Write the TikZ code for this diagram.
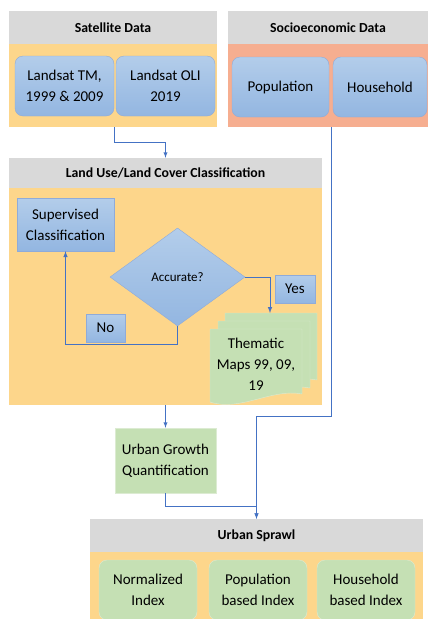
\documentclass[tikz,border=0pt]{standalone}
\usepackage{fontspec}
\setmainfont{Carlito}
\usetikzlibrary{shapes.geometric}
\definecolor{headgray}{HTML}{D9D9D9}
\definecolor{sandbg}{HTML}{FDD68B}
\definecolor{salmonbg}{HTML}{F6AE90}
\definecolor{boxtop}{HTML}{B3CDEA}
\definecolor{boxbot}{HTML}{93B6E1}
\definecolor{boxline}{HTML}{8FABD9}
\definecolor{leaf}{HTML}{C5E0B4}
\definecolor{leafline}{HTML}{DCEBD2}
\definecolor{arrowblue}{HTML}{4472C4}
\definecolor{loopgray}{HTML}{9AA6B6}
\def\mapsheet#1#2#3#4{%
  \draw[sheet] (#1,#2) -- (#3,#2) -- (#3,#4-8)
    .. controls (#3-30,#4-14) and (#1+30,#4+10) .. (#1,#4) -- cycle;}

\begin{document}
\begin{tikzpicture}[x=1pt,y=-1pt,
  every node/.style={font=\fontsize{15}{21}\selectfont, align=center, inner sep=0pt},
  header/.style={fill=headgray, font=\fontsize{13.8}{16}\selectfont\bfseries},
  panel/.style={fill=#1},
  bluebox/.style={draw=boxline, top color=boxtop, bottom color=boxbot},
  roundblue/.style={bluebox, rounded corners=8pt},
  greenbox/.style={draw=leafline, fill=leaf},
  roundgreen/.style={greenbox, rounded corners=8pt},
  sheet/.style={draw=leafline, fill=leaf},
  flow/.style={draw=arrowblue, line width=0.9pt, -latex},
  loopline/.style={draw=loopgray, line width=1pt, -latex, arrowblue}]
 \useasboundingbox (0,0) rectangle (428,619);

 % satellite data
 \node[header, minimum width=208, minimum height=33] (satHead) at (113,27.5) {Satellite Data};
 \node[panel=sandbg, minimum width=208, minimum height=83] (satBody) at (113,85.5) {};
 \node[roundblue, minimum width=99, minimum height=60] (tm) at (64.5,86) {Landsat TM,\\1999 \& 2009};
 \node[roundblue, minimum width=99, minimum height=60] (oli) at (165.5,86) {Landsat OLI\\2019};

 % socioeconomic data
 \node[header, minimum width=200, minimum height=33] (socHead) at (328,27.5) {Socioeconomic Data};
 \node[panel=salmonbg, minimum width=200, minimum height=83] (socBody) at (328,85.5) {};
 \node[roundblue, minimum width=97, minimum height=60] (pop) at (280.5,87) {Population};
 \node[roundblue, minimum width=94, minimum height=60] (hh) at (380,87) {Household};

 % classification
 \node[header, minimum width=313, minimum height=30] (lulcHead) at (165.5,173) {Land Use/Land Cover Classification};
 \node[panel=sandbg, minimum width=313, minimum height=217] (lulcBody) at (165.5,296.5) {};
 \node[bluebox, minimum width=97, minimum height=53] (sup) at (65.5,224.5) {Supervised\\Classification};
 \node[bluebox, diamond, minimum width=135, minimum height=98, font=\fontsize{13}{15}\selectfont] (acc) at (177.5,277) {Accurate?};
 \node[bluebox, minimum width=40, minimum height=28] (yes) at (295,289) {Yes};
 \node[bluebox, minimum width=39, minimum height=28] (no) at (105.5,328) {No};

 \mapsheet{225}{313}{317}{388}
 \mapsheet{218}{321}{310}{396}
 \mapsheet{210}{329}{302}{402}
 \coordinate (mapTop) at (270,313);
 \node (maps) at (256,364) {Thematic\\Maps 99, 09,\\19};

 % growth and sprawl
 \node[greenbox, minimum width=101, minimum height=65] (growth) at (165.5,460.5) {Urban Growth\\Quantification};
 \node[header, minimum width=333, minimum height=33] (sprHead) at (256.5,535.5) {Urban Sprawl};
 \node[panel=sandbg, minimum width=333, minimum height=70] (sprBody) at (256.5,587) {};
 \node[roundgreen, minimum width=98, minimum height=60] (norm) at (148,590) {Normalized\\Index};
 \node[roundgreen, minimum width=98, minimum height=60] (popIdx) at (258,590) {Population\\based Index};
 \node[roundgreen, minimum width=98, minimum height=60] (hhIdx) at (366,590) {Household\\based Index};

 \coordinate (socOut) at (331,127);
 \draw[flow] (tm.east |- satBody.south) -- ++(0,15) -| (lulcHead.north);
 \draw[flow] (socOut) -- ++(0,289) -| (sprHead.north);
 \draw[flow] (lulcBody.south) -- (growth.north);
 \draw[flow] (growth.south) -- ++(0,13) -| (sprHead.north);
 \draw[loopline] (acc.south) -- ++(0,18) -| (sup.south);
 \draw[loopline] (acc.east) -| (mapTop);
\end{tikzpicture}
\end{document}
